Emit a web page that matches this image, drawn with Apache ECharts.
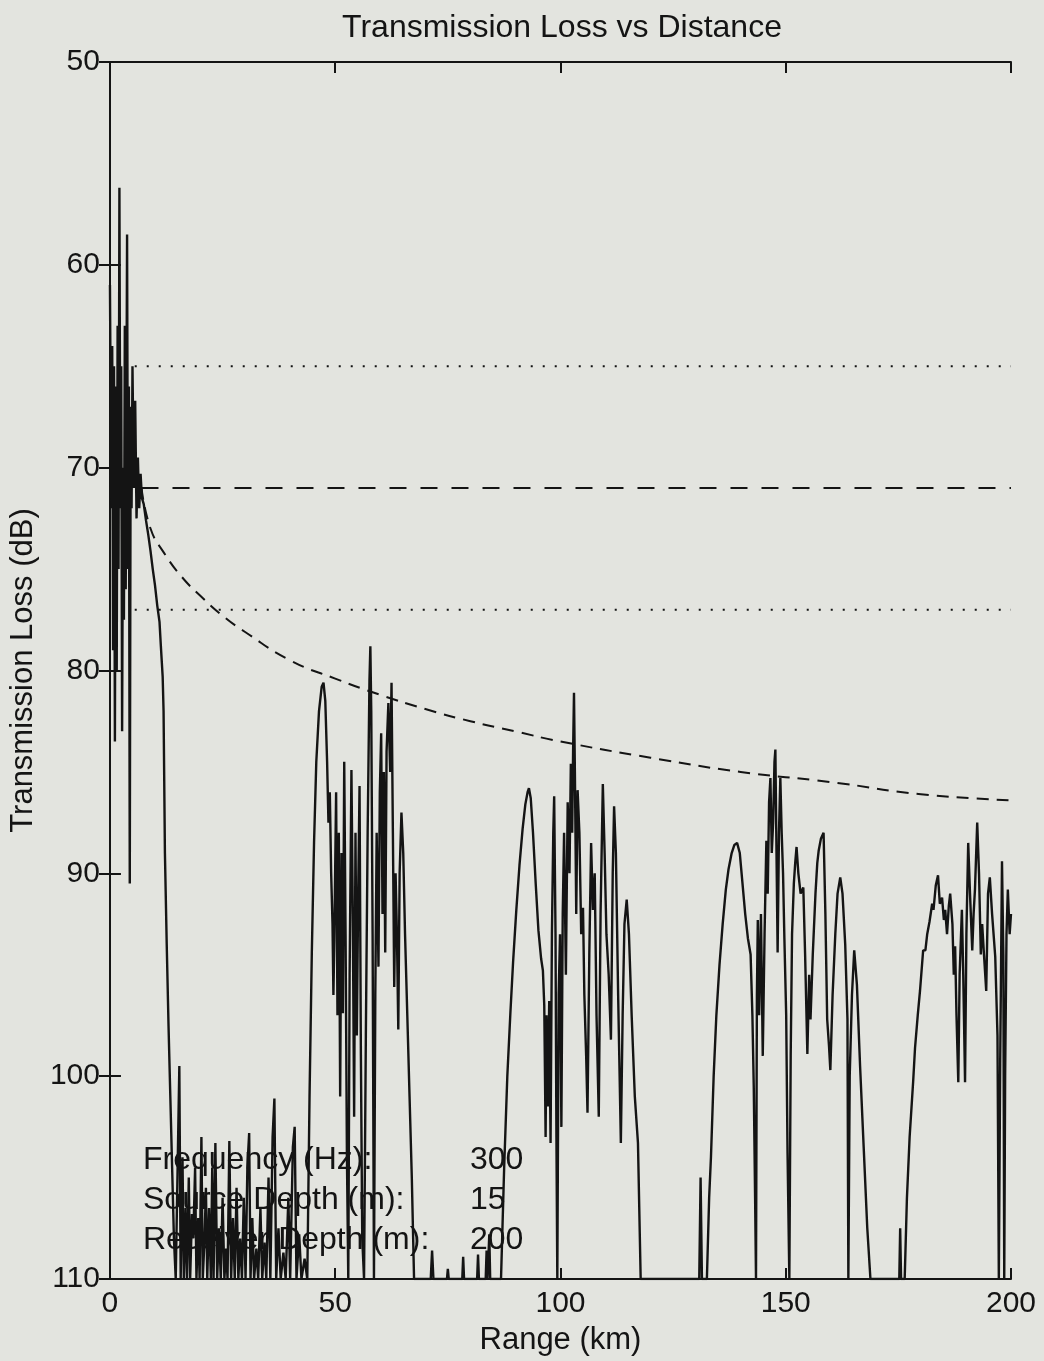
<!DOCTYPE html>
<html><head><meta charset="utf-8">
<script src="https://cdn.jsdelivr.net/npm/echarts@6/dist/echarts.min.js"></script>
<style>html,body{margin:0;padding:0;background:#e3e4df}#c{width:1044px;height:1361px}</style>
</head><body><div id="c"></div>
<script>
// ---- Data (range km, transmission loss dB) ----
const xTicks = [0, 50, 100, 150, 200];
const yTicks = [50, 60, 70, 80, 90, 100, 110];

const tlNear = [[0,61],[0.3,72],[0.5,64],[0.7,79],[0.9,65],[1.1,83.5],[1.3,66],[1.5,80],[1.7,63],[1.9,75],[2.1,56.2],[2.3,72],[2.5,65],[2.7,83],[2.9,70],[3.1,77.5],[3.3,63],[3.5,76],[3.8,58.5],[4.0,75],[4.2,66],[4.4,90.5],[4.6,67],[4.8,72],[5.0,65],[5.3,71],[5.6,66.7],[5.9,72.5],[6.2,69.5],[6.5,72],[6.8,70.3],[7.1,71.5],[7.5,71.8],[8,72.6],[8.5,73.3],[9,74.1],[9.5,75],[10,75.8],[10.5,76.8],[11,77.6],[11.3,78.8],[11.7,80.3],[11.9,82],[12.2,89],[12.6,93.5],[13,97.5],[13.4,101],[13.8,104.5],[14.2,108],[14.6,110]];

const tlShadow1 = [[15.0,110],[15.4,99.5],[15.7,110],[16.1,104],[16.4,110],[16.8,106.5],[17.1,110],[17.5,105],[17.8,110],[18.2,106.8],[18.5,108],[18.9,104.5],[19.2,110],[19.6,107],[19.9,110],[20.3,103],[20.6,110],[21.0,108],[21.3,105.5],[21.6,110],[22.0,106.5],[22.4,110],[22.7,104.5],[23.0,110],[23.4,103.3],[23.8,110],[24.2,107.5],[24.6,110],[25.0,106],[25.4,110],[25.8,108.5],[26.1,110],[26.5,103.2],[26.9,110],[27.3,107],[27.7,110],[28.1,105.5],[28.5,110],[28.9,108],[29.3,110],[29.7,106],[30.1,110],[30.5,104.5],[30.9,102.8],[31.2,110],[31.6,107],[32.0,110],[32.5,108.5],[32.9,110],[33.4,106.5],[33.8,110],[34.3,108.2],[34.7,110],[35.2,105],[35.6,110],[36.1,103],[36.5,101.1],[36.9,110],[37.4,107.5],[37.9,110],[38.5,108.7],[39.0,110],[39.6,106],[40.0,110],[40.6,103.5],[41.0,102.5],[41.4,110],[42.0,107.8],[42.5,110],[43.2,109],[43.8,110]];

const tlZone1 = [[44.3,101],[44.8,94],[45.3,88.5],[45.8,84.5],[46.4,82],[47.0,80.8],[47.4,80.6],[47.8,81.5],[48.2,84.5],[48.5,87.5],[48.8,86],[49.1,90],[49.4,92.5],[49.6,96],[49.8,93.3],[50.2,86],[50.5,97],[50.8,88],[51.1,101],[51.4,89],[51.7,96.9],[52.0,84.5],[52.3,93],[52.6,104],[52.9,110],[53.2,95],[53.6,84.9],[53.9,92],[54.2,102],[54.5,88],[54.8,98],[55.1,91],[55.4,85.7],[55.7,99],[56.0,108],[56.4,110],[56.8,98],[57.2,88],[57.6,80.5],[57.8,78.8],[58.0,82],[58.3,93],[58.6,110],[58.9,96],[59.2,88],[59.6,94.6],[59.9,86],[60.2,83.1],[60.5,92],[60.8,85],[61.1,93.9],[61.4,84],[61.8,81.6],[62.2,85],[62.5,80.6],[62.8,88],[63.1,95.6],[63.4,90],[63.7,93],[64.0,97.7],[64.3,90],[64.7,87],[65.1,89],[65.5,93],[66.0,97],[66.5,101],[67.0,105],[67.5,110]];

const tlShadow2 = [[71.2,110],[71.5,108.6],[71.8,110],[74.8,110],[75,109.5],[75.2,110],[78.2,110],[78.4,108.9],[78.6,110],[81.5,110],[81.7,108.8],[81.9,110],[83.4,110],[83.6,108.6],[83.8,110],[84.2,107.8],[84.4,110],[86.8,110]];

const tlZone2 = [[87.5,104.5],[88.2,100],[88.9,96.8],[89.5,94.3],[90.2,91.8],[90.9,89.6],[91.6,87.8],[92.2,86.6],[92.7,86],[93.0,85.8],[93.4,86.3],[93.9,88],[94.5,90.5],[95.1,92.8],[95.7,94.2],[96.1,94.8],[96.4,96.5],[96.7,103],[96.9,97],[97.2,101.5],[97.5,96.3],[97.8,103.3],[98.1,93],[98.4,88],[98.6,86.2],[98.9,93],[99.1,103],[99.3,110],[99.6,96],[99.9,93],[100.2,102.5],[100.5,92],[100.8,88],[101.2,95],[101.6,86.5],[102.0,90],[102.3,84.6],[102.6,88],[102.8,84],[103.0,81.1],[103.2,85],[103.5,92],[103.8,85.9],[104.2,88],[104.6,93],[105.0,91.7],[105.3,96],[105.7,99],[106.0,101.8],[106.4,94],[106.8,88.5],[107.2,91.8],[107.6,90],[108.0,97],[108.5,102],[108.9,92],[109.4,85.6],[109.8,89],[110.2,93],[110.7,95],[111.2,98.2],[111.6,90],[111.9,86.7],[112.3,89],[112.8,96],[113.4,103.3],[113.8,97],[114.2,92.5],[114.7,91.3],[115.2,93],[115.8,97],[116.5,101],[117.2,103.3],[117.8,110]];

const tlShadow3 = [[130.8,110],[131.1,105],[131.4,110],[132.5,110]];

const tlZone3 = [[133.0,106],[133.4,104],[134.0,100],[134.6,97],[135.3,94.5],[136.0,92.5],[136.7,90.8],[137.3,89.8],[138.0,89],[138.6,88.6],[139.2,88.5],[139.8,89],[140.4,90.5],[141.0,92],[141.6,93.2],[142.2,94],[142.6,97],[142.9,100.5],[143.2,106],[143.4,110],[143.6,96],[143.8,92.3],[144.1,97],[144.5,92],[144.9,99],[145.3,93],[145.7,88.4],[146.0,91],[146.3,86.5],[146.6,85.3],[146.9,89],[147.2,87.5],[147.5,84.5],[147.7,83.9],[147.9,88],[148.2,93.9],[148.5,88],[148.8,85.3],[149.1,88],[149.4,90],[149.7,93.2],[150.1,97],[150.4,103.8],[150.8,110],[151.1,99],[151.4,93],[151.8,90.5],[152.1,89.5],[152.4,88.7],[152.8,90],[153.3,91],[153.9,90.7],[154.3,94],[154.8,98.9],[155.2,95],[155.5,97.2],[156.0,94],[156.6,91],[157.0,89.5],[157.3,88.9],[157.8,88.3],[158.4,88],[158.8,92],[159.2,97.2],[159.6,98.5],[159.9,99.7],[160.4,96],[161.0,93],[161.5,91],[162.1,90.2],[162.6,91],[163.2,93.5],[163.7,97.2],[163.9,110],[164.2,100],[164.7,96],[165.2,93.8],[165.8,95.5],[166.5,99.5],[167.3,103.5],[168.1,107.5],[168.8,110]];

const tlShadow4 = [[175.2,110],[175.4,107.5],[175.6,110],[176.4,110]];

const tlZone4 = [[176.9,106],[177.5,103],[178.3,100.2],[178.7,98.6],[179.3,97],[179.8,95.8],[180.5,93.8],[181.0,93.8],[181.4,93],[181.9,92.4],[182.5,91.5],[182.8,91.8],[183.3,90.6],[183.8,90.1],[184.2,91.5],[184.7,91.2],[185.1,92.3],[185.4,91.8],[185.8,93],[186.2,91.6],[186.5,91],[187.0,92.5],[187.3,95],[187.6,93.6],[187.9,97],[188.3,100.3],[188.6,95],[189.1,91.8],[189.4,95],[189.8,100.3],[190.1,93],[190.5,88.5],[190.9,91],[191.4,93.8],[191.7,92],[192.0,90.8],[192.5,87.5],[192.9,90],[193.3,94],[193.6,92.5],[194.0,94],[194.5,95.8],[194.9,91],[195.3,90.2],[195.8,92],[196.5,94.1],[197.0,98],[197.3,110],[197.6,99.4],[198.0,89.4],[198.3,94],[198.5,110],[198.7,100],[199.0,93],[199.3,90.8],[199.7,93],[200,92]];

// spreading-loss reference curve
const refCurve = [[7,71.0],[9,73.0],[12,74.2],[16,75.4],[20,76.3],[25,77.3],[30,78.1],[40,79.5],[50,80.4],[60,81.2],[70,81.9],[80,82.5],[90,83.0],[100,83.5],[120,84.3],[140,85.0],[160,85.5],[180,86.1],[200,86.4]];
const dottedUpper = [[5.5,65],[200,65]];
const dashedMid = [[7,71],[200,71]];
const dottedLower = [[5.5,77],[200,77]];

const infoLabels = ['Frequency (Hz):', 'Source Depth (m):', 'Receiver Depth (m):'];
const infoValues = ['300', '15', '200'];

const tlData = [].concat(tlNear, tlShadow1, tlZone1, tlShadow2, tlZone2, tlShadow3, tlZone3, tlShadow4, tlZone4);

// ---- Chart ----
const FONT = '"Liberation Sans", Arial, Helvetica, sans-serif';
const INK = '#141414';
const chart = echarts.init(document.getElementById('c'), null, {renderer: 'canvas'});

const infoGraphics = [];
infoLabels.forEach((t, i) => {
  infoGraphics.push({type: 'text', x: 143, y: 1160 + i * 40, z: 0,
    style: {text: t, font: '32px ' + FONT, fill: INK, textVerticalAlign: 'middle', verticalAlign: 'middle'}});
  infoGraphics.push({type: 'text', x: 470, y: 1160 + i * 40, z: 0,
    style: {text: infoValues[i], font: '32px ' + FONT, fill: INK, textVerticalAlign: 'middle', verticalAlign: 'middle'}});
});

const axisLineStyle = {show: true, lineStyle: {color: INK, width: 2}};
const tickStyle = {show: true, inside: true, length: 11, lineStyle: {color: INK, width: 2}};

chart.setOption({
  animation: false,
  backgroundColor: '#e3e4df',
  grid: {left: 108, right: 33, top: 62, bottom: 82, containLabel: false},
  graphic: [
    {type: 'text', x: 562, y: 28, z: 0,
      style: {text: 'Transmission Loss vs Distance', font: '32px ' + FONT, fill: INK,
        textAlign: 'center', align: 'center', textVerticalAlign: 'middle', verticalAlign: 'middle'}}
  ].concat(infoGraphics),
  xAxis: [
    {type: 'value', min: 0, max: 200, interval: 50, position: 'bottom',
      axisLine: axisLineStyle, axisTick: tickStyle, splitLine: {show: false},
      axisLabel: {fontSize: 30, fontFamily: FONT, color: INK, margin: 10},
      name: 'Range (km)', nameLocation: 'middle', nameGap: 46,
      nameTextStyle: {fontSize: 31, fontFamily: FONT, color: INK}},
    {type: 'value', min: 0, max: 200, interval: 50, position: 'top',
      axisLine: axisLineStyle, axisTick: tickStyle, splitLine: {show: false},
      axisLabel: {show: false}}
  ],
  yAxis: [
    {type: 'value', min: 50, max: 110, interval: 10, inverse: true, position: 'left',
      axisLine: axisLineStyle, axisTick: tickStyle, splitLine: {show: false},
      axisLabel: {fontSize: 30, fontFamily: FONT, color: INK, margin: 10},
      name: 'Transmission Loss (dB)', nameLocation: 'middle', nameGap: 58,
      nameTextStyle: {fontSize: 31, fontFamily: FONT, color: INK}},
    {type: 'value', min: 50, max: 110, interval: 10, inverse: true, position: 'right',
      axisLine: axisLineStyle, axisTick: tickStyle, splitLine: {show: false},
      axisLabel: {show: false}}
  ],
  series: [
    {type: 'line', name: 'TL', data: tlData, showSymbol: false, clip: true, z: 3,
      lineStyle: {color: INK, width: 2.4}},
    {type: 'line', name: 'ref', data: refCurve, smooth: true, showSymbol: false, z: 3,
      lineStyle: {color: INK, width: 2, type: [12, 8]}},
    {type: 'line', data: dottedUpper, showSymbol: false, z: 3,
      lineStyle: {color: INK, width: 2, type: [2, 10]}},
    {type: 'line', data: dashedMid, showSymbol: false, z: 3,
      lineStyle: {color: INK, width: 2, type: [17, 14]}},
    {type: 'line', data: dottedLower, showSymbol: false, z: 3,
      lineStyle: {color: INK, width: 2, type: [2, 10]}}
  ]
});
</script>
</body></html>
